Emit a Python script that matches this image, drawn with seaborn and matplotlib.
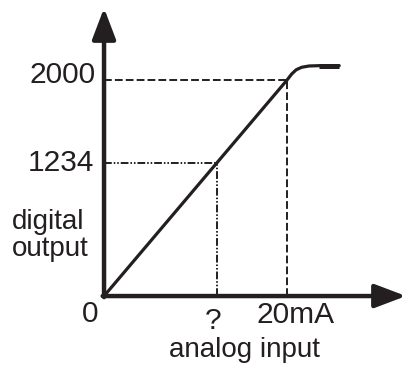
import matplotlib
matplotlib.use("Agg")
import matplotlib.pyplot as plt
import seaborn as sns

# transfer curve (mA -> counts)
current_ma = [0, 20, 20.5, 21, 21.6, 22.4, 23.5, 25.7]
digital_out = [0, 2000, 2055, 2095, 2118, 2130, 2133, 2133]

full_scale_ma = 20
full_scale_out = 2000
unknown_out = 1234
unknown_ma = unknown_out / full_scale_out * full_scale_ma

INK = "#231f20"

sns.set_style("white")
plt.rcParams["font.family"] = ["Liberation Sans", "DejaVu Sans"]

fig = plt.figure(figsize=(4.06, 3.67), dpi=100)
ax = fig.add_axes([0, 0, 1, 1])
ax.set_xlim(-11.37, 33.0)
ax.set_ylim(-657, 2741)
ax.axis("off")

# axes with arrow heads
arrow = dict(arrowstyle="-|>,head_length=0.95,head_width=0.36",
             lw=3.2, color=INK, mutation_scale=20, shrinkA=0, shrinkB=0)
ax.annotate("", xy=(0, 2667), xytext=(0, -10), arrowprops=arrow)
ax.annotate("", xy=(33.0, 0), xytext=(-0.15, 0), arrowprops=arrow)

# guide lines
ax.plot([0, full_scale_ma], [full_scale_out, full_scale_out], color=INK,
        lw=1.4, dashes=(4, 1.6))
ax.plot([full_scale_ma, full_scale_ma], [0, full_scale_out], color=INK,
        lw=1.4, dashes=(4, 1.6))
ax.plot([0, unknown_ma], [unknown_out, unknown_out], color=INK,
        lw=1.4, dashes=(4, 1, 0.8, 1, 0.8, 1))
ax.plot([unknown_ma, unknown_ma], [0, unknown_out], color=INK,
        lw=1.4, dashes=(4, 1, 0.8, 1, 0.8, 1))

# transfer curve
sns.lineplot(x=current_ma, y=digital_out, ax=ax, color=INK, lw=2.3,
             sort=False, estimator=None)
ax.plot(current_ma[-2:], digital_out[-2:], color=INK, lw=3.6,
        solid_capstyle="butt")

fs = 20
fs_num = 21.5
ax.text(-0.9, full_scale_out + 45, str(full_scale_out), ha="right",
        va="center", fontsize=fs_num, color=INK)
ax.text(-1.1, unknown_out, str(unknown_out), ha="right", va="center",
        fontsize=fs_num, color=INK)
ax.text(-10.05, 565, "digital\noutput", ha="left", va="center",
        fontsize=fs, color=INK, linespacing=1.05)
ax.text(-1.53, -167, "0", ha="center", va="center", fontsize=fs_num,
        color=INK)
ax.text(unknown_ma - 0.4, -235, "?", ha="center", va="center",
        fontsize=fs_num, color=INK)
ax.text(20.9, -175, "20mA", ha="center", va="center", fontsize=fs_num,
        color=INK)
ax.text(15.3, -500, "analog input", ha="center", va="center", fontsize=fs,
        color=INK)

fig.savefig("out.png", dpi=100)
